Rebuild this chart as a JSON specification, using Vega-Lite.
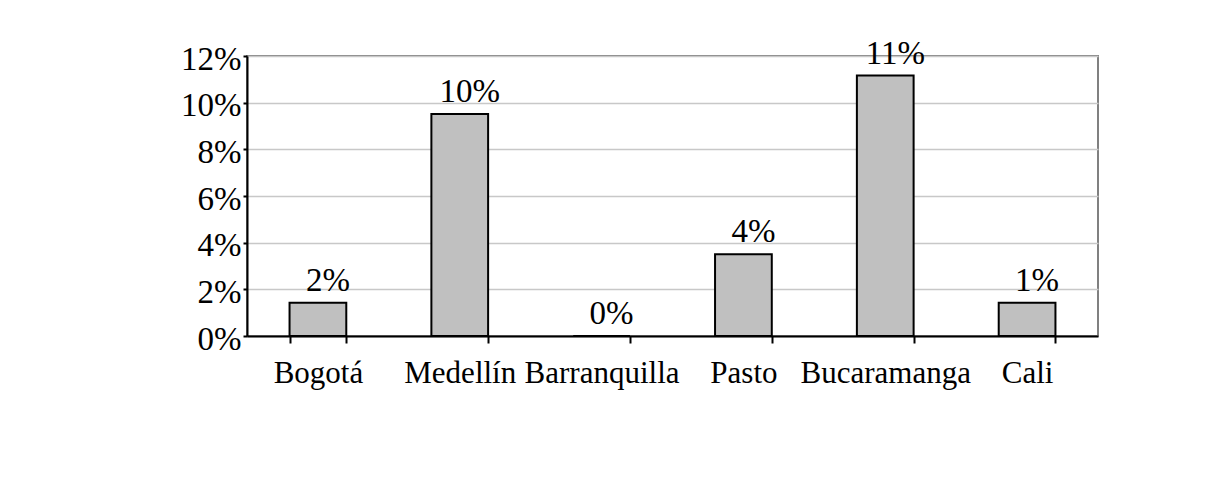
{
  "$schema": "https://vega.github.io/schema/vega-lite/v6.json",
  "width": 851,
  "height": 280,
  "autosize": {"type": "none"},
  "padding": {"left": 247, "top": 56, "right": 119, "bottom": 163},
  "background": "white",
  "config": {
    "font": "Liberation Serif",
    "view": {"stroke": "#808080", "strokeWidth": 2}
  },
  "data": {
    "values": [
      {"city": "Bogotá", "value": 0.0143, "label": "2%"},
      {"city": "Medellín", "value": 0.0951, "label": "10%"},
      {"city": "Barranquilla", "value": 0, "label": "0%"},
      {"city": "Pasto", "value": 0.035, "label": "4%"},
      {"city": "Bucaramanga", "value": 0.1116, "label": "11%"},
      {"city": "Cali", "value": 0.0143, "label": "1%"}
    ]
  },
  "encoding": {
    "x": {
      "field": "city",
      "type": "nominal",
      "sort": null,
      "scale": {"paddingInner": 0.6, "paddingOuter": 0.3},
      "axis": {
        "title": null,
        "labelAngle": 0,
        "labelFontSize": 31,
        "labelColor": "black",
        "labelPadding": 15,
        "domainColor": "black",
        "domainWidth": 2,
        "tickColor": "black",
        "tickWidth": 2,
        "tickSize": 7,
        "tickBand": "extent",
        "grid": false
      }
    },
    "y": {
      "field": "value",
      "type": "quantitative",
      "scale": {"domain": [0, 0.12], "nice": false},
      "axis": {
        "title": null,
        "values": [0, 0.02, 0.04, 0.06, 0.08, 0.1, 0.12],
        "format": ".0%",
        "labelFontSize": 33,
        "labelColor": "black",
        "labelPadding": 2,
        "labelOffset": 3,
        "domainColor": "black",
        "domainWidth": 2,
        "tickColor": "black",
        "tickWidth": 2,
        "tickSize": 4,
        "grid": true,
        "gridColor": "#c8c8c8",
        "gridWidth": 1.5
      }
    }
  },
  "layer": [
    {
      "mark": {"type": "bar", "fill": "#c0c0c0", "stroke": "black", "strokeWidth": 2}
    },
    {
      "mark": {"type": "text", "baseline": "alphabetic", "align": "center", "dy": -12, "dx": 10, "fontSize": 33, "color": "black"},
      "encoding": {"text": {"field": "label"}}
    }
  ]
}
